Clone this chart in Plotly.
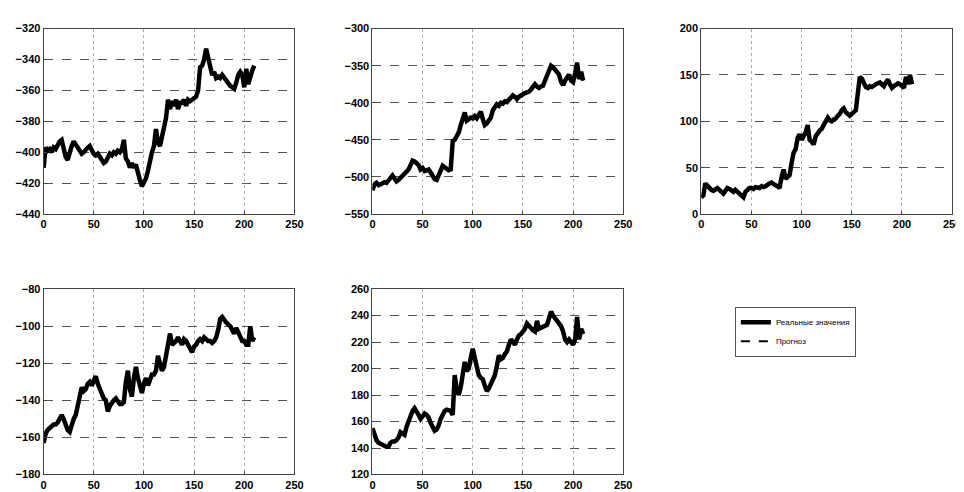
import plotly.graph_objects as go

# time index (every second observation)
t = list(range(0, 212, 2))

series1 = [-410, -397, -399, -398, -400, -397, -398, -395, -393, -392, -398, -403, -405, -400, -396, -393,
           -395, -398, -399, -401, -400, -398, -397, -396, -399, -401, -402, -401, -403, -405, -407, -406,
           -403, -401, -402, -400, -401, -399, -400, -398, -392, -404, -406, -410, -407, -410, -408, -414,
           -418, -422, -420, -417, -412, -405, -400, -396, -385, -394, -396, -390, -385, -378, -366, -372,
           -367, -370, -366, -372, -368, -368, -366, -370, -366, -367, -366, -365, -364, -360, -345, -344,
           -340, -333, -340, -345, -350, -348, -352, -351, -352, -350, -352, -353, -355, -357, -358, -359,
           -355, -350, -348, -350, -358, -346, -356, -350, -347, -344]

series2 = [-518, -510, -508, -511, -510, -509, -507, -508, -504, -500, -498, -502, -506, -504, -501, -500,
           -497, -494, -490, -484, -478, -479, -482, -484, -490, -488, -492, -491, -490, -494, -498, -503,
           -504, -497, -490, -485, -487, -490, -491, -490, -452, -450, -446, -440, -430, -422, -413, -424,
           -422, -420, -421, -418, -421, -416, -412, -422, -430, -428, -424, -420, -410, -405, -402, -404,
           -400, -401, -398, -399, -396, -395, -390, -392, -395, -392, -390, -388, -387, -386, -385, -382,
           -378, -375, -378, -380, -378, -377, -370, -362, -355, -350, -352, -355, -358, -362, -372, -376,
           -370, -366, -362, -370, -372, -360, -346, -368, -358, -370]

series3 = [18, 20, 33, 30, 28, 26, 25, 27, 28, 26, 24, 22, 25, 28, 27, 25,
           24, 26, 24, 22, 20, 18, 24, 26, 28, 28, 27, 29, 28, 28, 30, 29,
           30, 32, 33, 34, 32, 31, 30, 28, 40, 48, 38, 40, 42, 55, 66, 70,
           82, 86, 80, 84, 88, 96, 80, 78, 75, 84, 88, 90, 92, 96, 100, 104,
           101, 100, 102, 103, 106, 108, 112, 114, 110, 108, 106, 108, 110, 112, 130, 148,
           146, 142, 137, 136, 138, 137, 139, 140, 141, 142, 140, 138, 142, 145, 140, 136,
           138, 140, 141, 140, 138, 136, 148, 140, 150, 140]

series4 = [-163, -158, -156, -155, -154, -153, -153, -152, -150, -148, -150, -154, -156, -157, -153, -150,
           -148, -143, -138, -133, -135, -134, -131, -130, -132, -130, -127, -131, -134, -137, -139, -140,
           -146, -143, -141, -140, -139, -141, -142, -142, -141, -130, -124, -134, -138, -128, -122, -128,
           -132, -136, -131, -128, -132, -129, -126, -126, -124, -116, -121, -124, -122, -115, -110, -104,
           -110, -109, -108, -106, -108, -110, -107, -108, -110, -112, -114, -111, -110, -108, -107, -108,
           -106, -107, -108, -108, -109, -108, -106, -102, -96, -95, -97, -98, -99, -100, -102, -104,
           -101, -103, -106, -108, -108, -110, -110, -100, -108, -106]

series5 = [155, 150, 146, 144, 143, 142, 142, 141, 141, 144, 145, 145, 146, 148, 152, 151,
           150, 156, 160, 166, 168, 170, 168, 165, 162, 164, 166, 165, 163, 159, 156, 153,
           154, 157, 162, 165, 168, 169, 168, 168, 165, 195, 184, 180, 186, 195, 205, 198,
           200, 208, 215, 208, 200, 195, 193, 192, 187, 183, 185, 189, 192, 195, 202, 210,
           207, 208, 211, 213, 218, 222, 220, 218, 222, 225, 226, 228, 230, 234, 232, 230,
           229, 228, 236, 230, 231, 232, 232, 233, 238, 243, 240, 238, 237, 235, 232, 228,
           222, 220, 222, 220, 218, 222, 239, 222, 230, 226]

all_series = [series1, series2, series3, series4, series5]
y_ranges = [(-440, -320, 20), (-550, -300, 50), (0, 200, 50), (-180, -80, 20), (120, 260, 20)]
x_ticks = [0, 50, 100, 150, 200, 250]
legend_names = ["Реальные значения", "Прогноз"]

W, H = 964, 492
cols = [(33, 287), (366, 620), (699, 953)]
rows = [(15, 205), (282, 472)]
positions = [(0, 0), (0, 1), (0, 2), (1, 0), (1, 1)]

fig = go.Figure()
layout = {}
font_family = "Liberation Sans"

for i, (vals, (r, c)) in enumerate(zip(all_series, positions)):
    idx = "" if i == 0 else str(i + 1)
    xa, ya = "x" + idx, "y" + idx
    # forecast (dashed, beneath)
    fig.add_trace(go.Scatter(x=t, y=vals, mode="lines", xaxis=xa, yaxis=ya,
                             line=dict(color="black", width=2, dash="dash"),
                             name=legend_names[1], showlegend=False, legendrank=2))
    # actual values (thick)
    fig.add_trace(go.Scatter(x=t, y=vals, mode="lines", xaxis=xa, yaxis=ya,
                             line=dict(color="black", width=4.5),
                             name=legend_names[0], showlegend=(i == 0), legendrank=1))
    x0, x1 = cols[c]
    y0, y1 = rows[r]
    lo, hi, step = y_ranges[i]
    common = dict(showline=True, mirror=True, linecolor="#444", linewidth=1,
                  showgrid=True, gridwidth=1,
                  zeroline=False, ticks="inside", ticklen=3, tickcolor="#444",
                  tickfont=dict(family=font_family, size=11, color="black", weight=700))
    layout["xaxis" + idx] = dict(domain=[x0 / W, x1 / W], range=[0, 250], tickvals=x_ticks,
                                 anchor=ya, gridcolor="#b0b0b0", griddash="dot", **common)
    layout["yaxis" + idx] = dict(domain=[1 - y1 / H, 1 - y0 / H], range=[lo, hi],
                                 tickvals=list(range(lo, hi + 1, step)), anchor=xa,
                                 gridcolor="#555", griddash="dash", **common)

# legend-only entry for forecast
fig.add_trace(go.Scatter(x=[None], y=[None], mode="lines", xaxis="x", yaxis="y",
                         line=dict(color="black", width=2, dash="dash"),
                         name=legend_names[1], showlegend=True, legendrank=2))

fig.update_layout(**layout)
fig.update_layout(
    width=W, height=H,
    margin=dict(l=0, r=0, t=0, b=0),
    paper_bgcolor="white", plot_bgcolor="white",
    font=dict(family=font_family, color="black"),
    legend=dict(x=733 / W, y=1 - 300 / H, xanchor="left", yanchor="top",
                bordercolor="#555", borderwidth=1, bgcolor="white",
                font=dict(size=8, family=font_family), tracegroupgap=0,
                itemwidth=30),
)

fig.write_html("out.html")
